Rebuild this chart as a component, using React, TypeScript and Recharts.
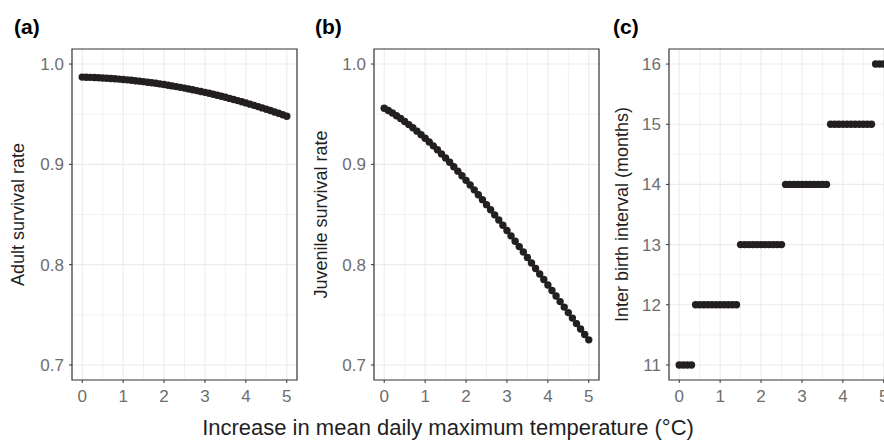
import { CartesianGrid, ReferenceArea, Scatter, ScatterChart, XAxis, YAxis } from "recharts";

// temperature increase (°C), one point every 0.1
const temps = [
  0, 0.1, 0.2, 0.3, 0.4, 0.5, 0.6, 0.7, 0.8, 0.9, 1, 1.1, 1.2, 1.3, 1.4, 1.5, 1.6, 1.7,
  1.8, 1.9, 2, 2.1, 2.2, 2.3, 2.4, 2.5, 2.6, 2.7, 2.8, 2.9, 3, 3.1, 3.2, 3.3, 3.4, 3.5,
  3.6, 3.7, 3.8, 3.9, 4, 4.1, 4.2, 4.3, 4.4, 4.5, 4.6, 4.7, 4.8, 4.9, 5,
];

const adultSurvival = [
  0.987, 0.98689, 0.98675, 0.98658, 0.98638, 0.98616, 0.98591, 0.98563, 0.98533, 0.985,
  0.98464, 0.98425, 0.98384, 0.9834, 0.98293, 0.98244, 0.98192, 0.98137, 0.98079, 0.98019,
  0.97956, 0.9789, 0.97822, 0.97751, 0.97677, 0.976, 0.97521, 0.97439, 0.97354, 0.97266,
  0.97176, 0.97083, 0.96987, 0.96889, 0.96788, 0.96684, 0.96577, 0.96468, 0.96356, 0.96241,
  0.96124, 0.96004, 0.95881, 0.95755, 0.95627, 0.95496, 0.95362, 0.95226, 0.95087, 0.94945,
  0.948,
];

const juvenileSurvival = [
  0.956, 0.95365, 0.95114, 0.94848, 0.94568, 0.94274, 0.93965, 0.93643, 0.93308, 0.9296,
  0.926, 0.92228, 0.91845, 0.9145, 0.91044, 0.90628, 0.90202, 0.89767, 0.89322, 0.88868,
  0.88406, 0.87935, 0.87457, 0.86972, 0.8648, 0.85981, 0.85476, 0.84965, 0.84449, 0.83927,
  0.83401, 0.82871, 0.82337, 0.818, 0.81259, 0.80716, 0.80171, 0.79623, 0.79074, 0.78524,
  0.77973, 0.77421, 0.7687, 0.76318, 0.75768, 0.75218, 0.7467, 0.74124, 0.73579, 0.73037,
  0.72505,
];

const interBirth = [
  11, 11, 11, 11, 12, 12, 12, 12, 12, 12, 12, 12, 12, 12, 12, 13, 13, 13, 13, 13, 13, 13,
  13, 13, 13, 13, 14, 14, 14, 14, 14, 14, 14, 14, 14, 14, 14, 15, 15, 15, 15, 15, 15, 15,
  15, 15, 15, 15, 16, 16, 16,
];

const xTicks = [0, 1, 2, 3, 4, 5];
const xMinor = [0.5, 1.5, 2.5, 3.5, 4.5];
const rateTicks = [0.7, 0.8, 0.9, 1.0];
const rateMinor = [0.75, 0.85, 0.95];
const ibiTicks = [11, 12, 13, 14, 15, 16];
const ibiMinor = [11.5, 12.5, 13.5, 14.5, 15.5];

const FONT = '"Liberation Sans", Arial, Helvetica, sans-serif';
const X_DOMAIN: [number, number] = [-0.25, 5.25];

const dot = (p: any) => <circle cx={p.cx} cy={p.cy} r={3.7} fill="#231f20" />;

type PanelProps = {
  left: number;
  axisWidth: number;
  right: number;
  values: number[];
  yDomain: [number, number];
  yTicks: number[];
  yMinor: number[];
  fmt?: (v: number) => string;
};

function Panel({ left, axisWidth, right, values, yDomain, yTicks, yMinor, fmt }: PanelProps) {
  const data = temps.map((t, i) => ({ t, v: values[i] }));
  const tickStyle = { fill: "#6e6e6e", fontSize: 17 };
  return (
    <div style={{ position: "absolute", left, top: 0 }}>
      <ScatterChart width={300} height={440} margin={{ top: 49, right, bottom: 0, left: 0 }}>
        <CartesianGrid
          stroke="#ececec"
          strokeWidth={0.7}
          horizontalValues={yMinor}
          verticalValues={xMinor}
        />
        <CartesianGrid
          stroke="#ebebeb"
          strokeWidth={1.1}
          horizontalValues={yTicks}
          verticalValues={xTicks}
        />
        <XAxis
          type="number"
          dataKey="t"
          domain={X_DOMAIN}
          ticks={xTicks}
          allowDataOverflow
          interval={0}
          height={60}
          tickSize={3}
          tickMargin={7}
          axisLine={false}
          tickLine={{ stroke: "#333333" }}
          tick={tickStyle}
        />
        <YAxis
          type="number"
          dataKey="v"
          domain={yDomain}
          ticks={yTicks}
          allowDataOverflow
          interval={0}
          width={axisWidth}
          tickSize={3}
          tickMargin={5}
          axisLine={false}
          tickLine={{ stroke: "#333333" }}
          tick={tickStyle}
          tickFormatter={fmt}
        />
        <ReferenceArea
          x1={X_DOMAIN[0]}
          x2={X_DOMAIN[1]}
          y1={yDomain[0]}
          y2={yDomain[1]}
          fill="none"
          stroke="#333333"
          strokeWidth={1.2}
          ifOverflow="visible"
        />
        <Scatter data={data} isAnimationActive={false} shape={dot} />
      </ScatterChart>
    </div>
  );
}

export default function App() {
  const oneDecimal = (v: number) => v.toFixed(1);
  return (
    <div
      style={{
        position: "fixed",
        left: 0,
        top: 0,
        width: 884,
        height: 440,
        overflow: "hidden",
        background: "#fff",
        fontFamily: FONT,
      }}
    >
      <Panel
        left={0}
        axisWidth={72}
        right={3}
        values={adultSurvival}
        yDomain={[0.685, 1.015]}
        yTicks={rateTicks}
        yMinor={rateMinor}
        fmt={oneDecimal}
      />
      <Panel
        left={300}
        axisWidth={74}
        right={1}
        values={juvenileSurvival}
        yDomain={[0.685, 1.015]}
        yTicks={rateTicks}
        yMinor={rateMinor}
        fmt={oneDecimal}
      />
      <Panel
        left={600}
        axisWidth={69}
        right={6}
        values={interBirth}
        yDomain={[10.75, 16.25]}
        yTicks={ibiTicks}
        yMinor={ibiMinor}
      />
      <svg
        width={884}
        height={440}
        style={{ position: "absolute", left: 0, top: 0, pointerEvents: "none" }}
        fontFamily={FONT}
      >
        <g fontWeight="bold" fontSize={21} fill="#000">
          <text x={14} y={34}>(a)</text>
          <text x={315} y={34}>(b)</text>
          <text x={613} y={34}>(c)</text>
        </g>
        <g fontSize={18} fill="#1f1f1f" textAnchor="middle">
          <text transform="translate(23.5,214.5) rotate(-90)">Adult survival rate</text>
          <text transform="translate(327,214.5) rotate(-90)">Juvenile survival rate</text>
          <text transform="translate(628,214.5) rotate(-90)">Inter birth interval (months)</text>
        </g>
        <text x={448} y={435} fontSize={22} fill="#1f1f1f" textAnchor="middle">
          Increase in mean daily maximum temperature (°C)
        </text>
      </svg>
    </div>
  );
}
